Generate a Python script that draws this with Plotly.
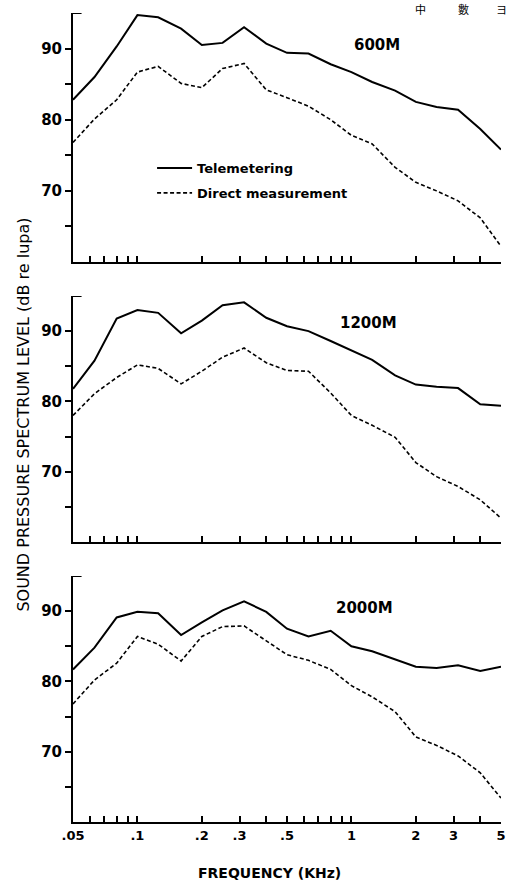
import plotly.graph_objects as go

# ---- data ----
freq_khz = [0.05, 0.063, 0.08, 0.1, 0.125, 0.16, 0.2, 0.25, 0.315, 0.4, 0.5,
            0.63, 0.8, 1, 1.25, 1.6, 2, 2.5, 3.15, 4, 5]

tele_600 = [82.8, 86.0, 90.3, 94.7, 94.4, 92.8, 90.5, 90.8, 93.0, 90.7, 89.4,
            89.3, 87.8, 86.7, 85.3, 84.1, 82.5, 81.8, 81.4, 78.7, 75.8]
direct_600 = [76.8, 80.1, 82.8, 86.7, 87.5, 85.1, 84.5, 87.2, 87.9, 84.2, 83.1,
              81.9, 80.0, 77.8, 76.6, 73.3, 71.2, 70.0, 68.6, 66.2, 62.2]

tele_1200 = [81.8, 85.8, 91.8, 93.0, 92.6, 89.7, 91.5, 93.7, 94.1, 91.9, 90.7,
             90.0, 88.6, 87.3, 85.9, 83.7, 82.4, 82.1, 81.9, 79.6, 79.4]
direct_1200 = [78.0, 81.1, 83.4, 85.2, 84.7, 82.5, 84.3, 86.3, 87.6, 85.5, 84.4,
               84.3, 81.2, 78.0, 76.6, 74.9, 71.3, 69.3, 67.9, 66.0, 63.4]

tele_2000 = [81.7, 84.8, 89.1, 89.9, 89.7, 86.6, 88.4, 90.1, 91.4, 89.9, 87.5,
             86.4, 87.2, 85.0, 84.3, 83.2, 82.1, 81.9, 82.3, 81.5, 82.1]
direct_2000 = [76.8, 80.2, 82.6, 86.4, 85.3, 82.9, 86.4, 87.8, 87.9, 85.8, 83.8,
               83.0, 81.7, 79.4, 77.8, 75.7, 72.1, 70.9, 69.4, 67.0, 63.4]

panel_labels = ["600M", "1200M", "2000M"]
series_names = ["Telemetering", "Direct measurement"]

x_tickvals = [0.05, 0.06, 0.07, 0.08, 0.09, 0.1, 0.2, 0.3, 0.4, 0.5, 0.6, 0.7,
              0.8, 0.9, 1, 2, 3, 4, 5]
x_ticklabels = [".05", "", "", "", "", ".1", ".2", ".3", "", ".5", "", "", "",
                "", "1", "2", "3", "", "5"]
y_tickvals = [65, 70, 75, 80, 85, 90]
y_ticklabels = ["", "70", "", "80", "", "90"]

# ---- figure ----
FONT = "DejaVu Sans"
W, H = 515, 882
ML, MR, MT, MB = 73, 9, 13, 60
PW = W - ML - MR
PH = H - MT - MB

def pdom(top_px, bot_px):
    return [(H - MB - bot_px) / PH, (H - MB - top_px) / PH]

def px_x(px):
    return (px - ML) / PW

def px_y(py):
    return (H - MB - py) / PH

domains = [pdom(13, 262), pdom(296, 542), pdom(576, 822)]
panels = [(tele_600, direct_600), (tele_1200, direct_1200), (tele_2000, direct_2000)]

fig = go.Figure()
layout = {}
for i, ((tele, direct), dom) in enumerate(zip(panels, domains)):
    n = "" if i == 0 else str(i + 1)
    xa, ya = "x" + n, "y" + n
    fig.add_trace(go.Scatter(x=freq_khz, y=tele, mode="lines", name=series_names[0],
                             xaxis=xa, yaxis=ya, line=dict(color="black", width=2),
                             showlegend=(i == 0), legendgroup="a"))
    fig.add_trace(go.Scatter(x=freq_khz, y=direct, mode="lines", name=series_names[1],
                             xaxis=xa, yaxis=ya,
                             line=dict(color="black", width=1.6, dash="4px,2.5px"),
                             showlegend=(i == 0), legendgroup="b"))
    layout["xaxis" + n] = dict(
        type="log", range=[-1.30103, 0.69897], domain=[0, 1], anchor=ya,
        showline=True, linecolor="black", linewidth=2, showgrid=False, zeroline=False,
        ticks="inside", ticklen=6, tickwidth=1.6, tickcolor="black",
        tickvals=x_tickvals,
        ticktext=x_ticklabels if i == 2 else [""] * len(x_tickvals),
        tickfont=dict(family=FONT, size=13, color="black", weight="bold"),
        fixedrange=True,
    )
    layout["yaxis" + n] = dict(
        range=[60, 95], domain=dom, anchor=xa,
        showline=True, linecolor="black", linewidth=2, showgrid=False, zeroline=False,
        ticks="outside", ticklen=6, tickwidth=1.6, tickcolor="black",
        tickvals=y_tickvals, ticktext=y_ticklabels,
        tickfont=dict(family=FONT, size=15, color="black", weight="bold"),
        fixedrange=True,
    )
    # small bracket at top of the y axis
    fig.add_shape(type="line", xref=xa + " domain", yref=ya, x0=0, x1=0.02, y0=95, y1=95,
                  line=dict(color="black", width=2))

fig.update_layout(**layout)

label_pos = [(381, 45), (372, 323), (368, 608)]
for lab, (px, py) in zip(panel_labels, label_pos):
    fig.add_annotation(text=lab, xref="paper", yref="paper",
                       x=px_x(px), y=px_y(py),
                       showarrow=False, xanchor="center", yanchor="middle",
                       font=dict(family=FONT, size=15, color="black", weight="bold"))

fig.add_annotation(text="SOUND PRESSURE SPECTRUM LEVEL (dB re lupa)", xref="paper", yref="paper",
                   x=px_x(22), y=px_y(415), textangle=-90,
                   showarrow=False, xanchor="center", yanchor="middle",
                   font=dict(family=FONT, size=16, color="black"))
fig.add_annotation(text="FREQUENCY (KHz)", xref="paper", yref="paper",
                   x=px_x(272), y=px_y(873),
                   showarrow=False, xanchor="center", yanchor="middle",
                   font=dict(family=FONT, size=14, color="black", weight="bold"))

# header text from the scanned page (top-right corner)
for ch, px in zip(["中", "數", "ヨ"], [425, 468, 506]):
    fig.add_annotation(text=ch, xref="paper", yref="paper",
                       x=px_x(px), y=px_y(-1),
                       showarrow=False, xanchor="center", yanchor="top",
                       font=dict(family="Noto Sans CJK TC", size=11, color="black"))

fig.update_layout(
    width=W, height=H, margin=dict(l=ML, r=MR, t=MT, b=MB),
    paper_bgcolor="white", plot_bgcolor="white",
    showlegend=True,
    legend=dict(x=px_x(153), y=px_y(153),
                xanchor="left", yanchor="top", bgcolor="rgba(0,0,0,0)",
                tracegroupgap=5, itemwidth=35,
                font=dict(family=FONT, size=13, color="black", weight="bold")),
)

fig.write_html("out.html")
